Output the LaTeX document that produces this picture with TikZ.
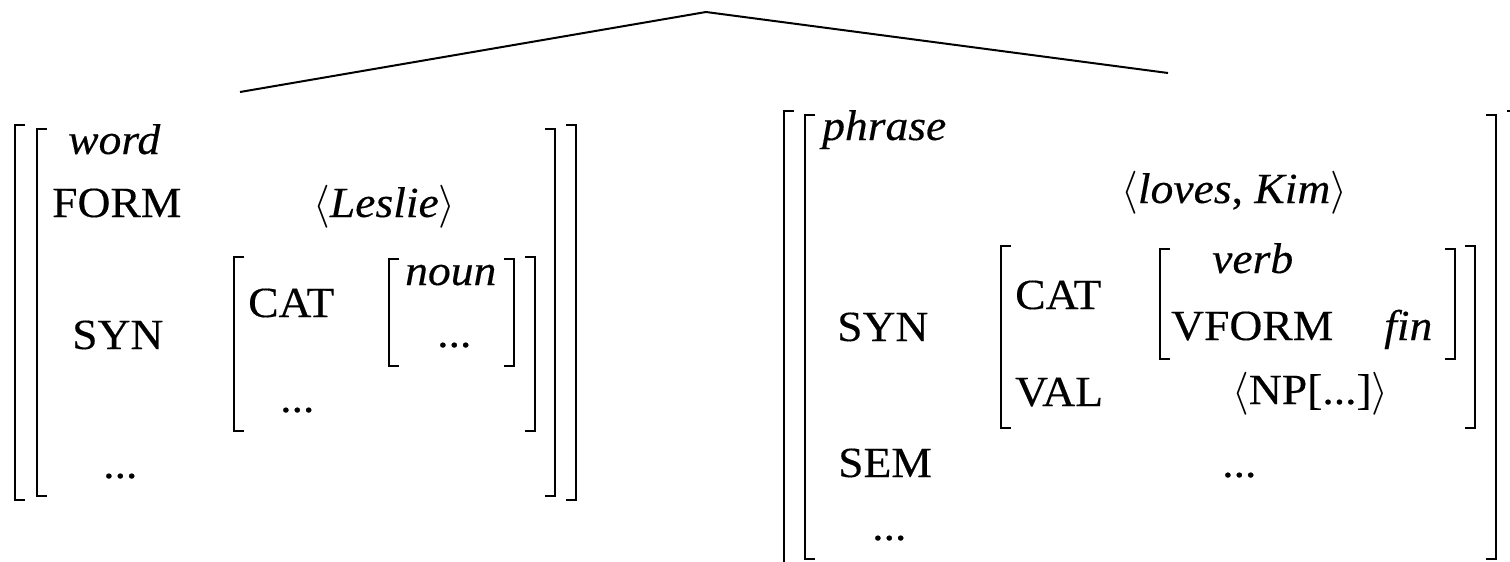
\RequirePackage{fix-cm}
\documentclass[tikz,border=0pt]{standalone}
\usepackage{fontspec}
\setmainfont{Liberation Serif}[FakeStretch=1.06, FakeBold=0.3]

% one pair of AVM brackets: left x, right x, top y, bottom y
\newcommand{\avmbrackets}[4]{%
  \draw[avm line] (#1+\tick,#3) -- (#1,#3) -- (#1,#4) -- (#1+\tick,#4);
  \draw[avm line] (#2-\tick,#3) -- (#2,#3) -- (#2,#4) -- (#2-\tick,#4);
}

\begin{document}
\begin{tikzpicture}[
    x=1pt, y=-1pt,
    line cap=butt,
    line join=miter,
    avm line/.style={line width=2.8pt},
    tree line/.style={line width=2pt},
    feat/.style={inner sep=0pt, anchor=base west, font=\fontsize{43}{50}\selectfont},
    val/.style={feat, font=\fontsize{43}{50}\selectfont\itshape}
]

\useasboundingbox (0,0) rectangle (1510,562);

\def\tick{10}

% the tree
\coordinate (mother) at (706,12);
\coordinate (leftdtr) at (240,92);
\coordinate (rightdtr) at (1168,73);
\draw[tree line] (leftdtr) -- (mother) -- (rightdtr);

% left daughter
\avmbrackets{15}{576}{125}{500}
\avmbrackets{37}{555}{129}{496}
\avmbrackets{234}{535}{257}{431}
\avmbrackets{389}{514}{259}{366}

\node[val] (wtype) at (68,154) {word};
\node[feat] (wform) at (52,217) {FORM};
\node[feat] (wformval) at (313,217) {$\langle$\textit{Leslie}$\rangle$};
\node[feat] (wsyn) at (72,349) {SYN};
\node[feat] (wcat) at (248,317) {CAT};
\node[val] (wnoun) at (405,285) {noun};
\node[feat] (wnoundots) at (437,347) {...};
\node[feat] (wcatdots) at (280,412) {...};
\node[feat] (wdots) at (103,478) {...};

% right daughter
\avmbrackets{784}{1517}{111}{564}
\avmbrackets{805}{1496}{115}{559}
\avmbrackets{1001}{1475}{246}{428}
\avmbrackets{1160}{1455}{249}{359}

\node[val] (ptype) at (822,140) {phrase};
\node[feat] (pformval) at (1121,203) {$\langle$\textit{loves}, \textit{Kim}$\rangle$};
\node[feat] (psyn) at (837,341) {SYN};
\node[feat] (pcat) at (1015,309) {CAT};
\node[val] (pverb) at (1212,273) {verb};
\node[feat] (pvform) at (1171,340) {VFORM};
\node[val] (pfin) at (1384,340) {fin};
\node[feat] (pval) at (1015,406) {VAL};
\node[feat] (pvalval) at (1232,404) {$\langle$NP[...]$\rangle$};
\node[feat] (psem) at (838,477) {SEM};
\node[feat] (psemdots) at (1222,477) {...};
\node[feat] (pdots) at (872,540) {...};

\end{tikzpicture}
\end{document}
